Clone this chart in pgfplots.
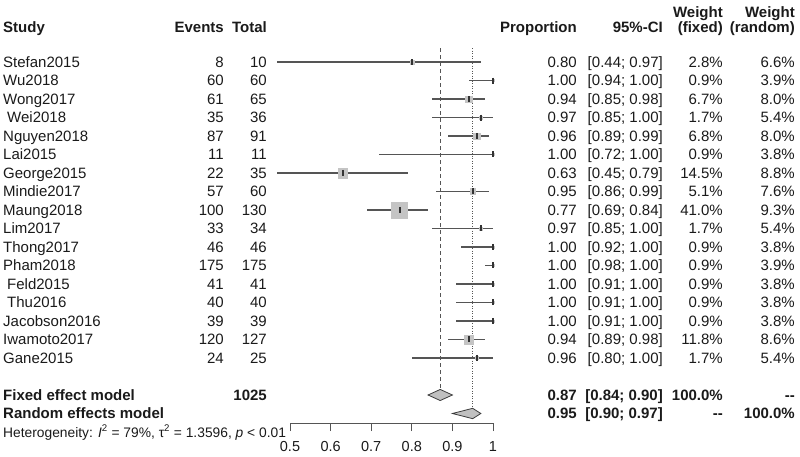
\documentclass[border=0pt]{standalone}
\usepackage{pgfplots}
\pgfplotsset{compat=1.18}
\usepackage{pgfplotstable}
\usepackage{fontspec}
\setmainfont{Liberation Sans}
\definecolor{linecol}{HTML}{555555}
\definecolor{sqfill}{HTML}{C4C4C4}
\definecolor{diafill}{HTML}{C0C0C0}
\definecolor{txt}{HTML}{1A1A1A}

% y = -row, est, lower, upper, fixed weight (%)
\pgfplotstableread{
y est lo hi w
-1 0.80 0.44 0.97 2.8
-2 1.00 0.94 1.00 0.9
-3 0.94 0.85 0.98 6.7
-4 0.97 0.85 1.00 1.7
-5 0.96 0.89 0.99 6.8
-6 1.00 0.72 1.00 0.9
-7 0.63 0.45 0.79 14.5
-8 0.95 0.86 0.99 5.1
-9 0.77 0.69 0.84 41.0
-10 0.97 0.85 1.00 1.7
-11 1.00 0.92 1.00 0.9
-12 1.00 0.98 1.00 0.9
-13 1.00 0.91 1.00 0.9
-14 1.00 0.91 1.00 0.9
-15 1.00 0.91 1.00 0.9
-16 0.94 0.89 0.98 11.8
-17 0.96 0.80 1.00 1.7
}\studies

\begin{document}
\begin{tikzpicture}
\useasboundingbox (0,0) rectangle (800bp,-457bp);
\begin{axis}[
  at={(290bp,-423bp)}, anchor=south west,
  scale only axis, width=203bp, height=423bp,
  xmin=0.5, xmax=1, ymin=-20.514, ymax=2.3514,
  clip=false,
  axis x line=bottom, axis y line=none,
  axis line style={-, linecol, line width=1bp},
  every outer x axis line/.append style={-},
  xtick={0.5,0.6,0.7,0.8,0.9,1},
  tick align=outside, major tick length=8bp,
  tick style={linecol, line width=1bp},
  /pgf/number format/assume math mode=true,
  xticklabel style={font=\fontsize{14.5bp}{17bp}\selectfont, text=txt, yshift=-7bp},
]
% reference lines
\addplot[linecol, line width=1bp, dash pattern=on 4bp off 3bp] coordinates {(0.87,-0.25) (0.87,-18.7)};
\addplot[linecol, line width=1bp, dash pattern=on 1bp off 1.5bp] coordinates {(0.95,-0.25) (0.95,-19.72)};
% squares (area proportional to fixed weight)
\addplot[scatter, only marks, mark=square*, draw=sqfill, fill=sqfill,
  mark options={draw=sqfill, fill=sqfill},
  scatter/use mapped color={draw=sqfill, fill=sqfill},
  visualization depends on={8*sqrt(\thisrow{w}/41) \as \msz},
  scatter/@pre marker code/.append style={/tikz/mark size=\msz}]
  table[x=est, y=y] {\studies};
% CI lines and estimate ticks
\addplot[linecol, only marks, mark=|, mark size=3bp,
  mark options={line width=1.8bp, draw=linecol!60!black},
  error bars/.cd, x dir=both, x explicit, error mark=none,
  error bar style={line width=1.25bp, linecol}]
  table[x=est, y=y,
    x error plus expr={\thisrow{hi}-\thisrow{est}},
    x error minus expr={\thisrow{est}-max(\thisrow{lo},0.468)}] {\studies};
% diamonds
\addplot[fill=diafill, draw=linecol!70!black, line width=0.8bp] coordinates {(0.84,-19) (0.87,-18.7) (0.90,-19) (0.87,-19.3)} -- cycle;
\addplot[fill=diafill, draw=linecol!70!black, line width=0.8bp] coordinates {(0.90,-20) (0.95,-19.72) (0.97,-20) (0.95,-20.28)} -- cycle;
\end{axis}

\begin{scope}[x=1bp, y=-1bp, every node/.style={inner sep=0pt, font=\fontsize{15bp}{18bp}\selectfont, text=txt}]
% header
\node[anchor=base west, font=\fontsize{15bp}{18bp}\selectfont\bfseries] at (3,32.5) {Study};
\node[anchor=base east, font=\fontsize{15bp}{18bp}\selectfont\bfseries] at (224,32.5) {Events};
\node[anchor=base east, font=\fontsize{15bp}{18bp}\selectfont\bfseries] at (267,32.5) {Total};
\node[anchor=base east, font=\fontsize{15bp}{18bp}\selectfont\bfseries] at (577,32.5) {Proportion};
\node[anchor=base east, font=\fontsize{15bp}{18bp}\selectfont\bfseries] at (663,32.5) {95\%-CI};
\node[anchor=base east, font=\fontsize{15bp}{18bp}\selectfont\bfseries] at (723,17.5) {Weight};
\node[anchor=base east, font=\fontsize{15bp}{18bp}\selectfont\bfseries] at (723,32.5) {(fixed)};
\node[anchor=base east, font=\fontsize{15bp}{18bp}\selectfont\bfseries] at (795,17.5) {Weight};
\node[anchor=base east, font=\fontsize{15bp}{18bp}\selectfont\bfseries] at (795,32.5) {(random)};
% study rows
\foreach \i/\nm/\ev/\tot/\pr/\ci/\wf/\wr in {
1/Stefan2015/8/10/0.80/{[0.44; 0.97]}/2.8/6.6,
2/Wu2018/60/60/1.00/{[0.94; 1.00]}/0.9/3.9,
3/Wong2017/61/65/0.94/{[0.85; 0.98]}/6.7/8.0,
4/{\hspace*{4bp}Wei2018}/35/36/0.97/{[0.85; 1.00]}/1.7/5.4,
5/Nguyen2018/87/91/0.96/{[0.89; 0.99]}/6.8/8.0,
6/Lai2015/11/11/1.00/{[0.72; 1.00]}/0.9/3.8,
7/George2015/22/35/0.63/{[0.45; 0.79]}/14.5/8.8,
8/Mindie2017/57/60/0.95/{[0.86; 0.99]}/5.1/7.6,
9/Maung2018/100/130/0.77/{[0.69; 0.84]}/41.0/9.3,
10/Lim2017/33/34/0.97/{[0.85; 1.00]}/1.7/5.4,
11/Thong2017/46/46/1.00/{[0.92; 1.00]}/0.9/3.8,
12/Pham2018/175/175/1.00/{[0.98; 1.00]}/0.9/3.9,
13/{\hspace*{4bp}Feld2015}/41/41/1.00/{[0.91; 1.00]}/0.9/3.8,
14/{\hspace*{4bp}Thu2016}/40/40/1.00/{[0.91; 1.00]}/0.9/3.8,
15/Jacobson2016/39/39/1.00/{[0.91; 1.00]}/0.9/3.8,
16/Iwamoto2017/120/127/0.94/{[0.89; 0.98]}/11.8/8.6,
17/Gane2015/24/25/0.96/{[0.80; 1.00]}/1.7/5.4}{
  \pgfmathsetmacro\by{62+(\i-1)*18.5+5.4}
  \node[anchor=base west] at (3,\by) {\nm};
  \node[anchor=base east] at (224,\by) {\ev};
  \node[anchor=base east] at (267,\by) {\tot};
  \node[anchor=base east] at (577,\by) {\pr};
  \node[anchor=base east] at (663,\by) {\ci};
  \node[anchor=base east] at (723,\by) {\wf\%};
  \node[anchor=base east] at (795,\by) {\wr\%};
}
% summary rows
\begin{scope}[every node/.style={inner sep=0pt, font=\fontsize{15bp}{18bp}\selectfont\bfseries, text=txt}]
\node[anchor=base west] at (3,400.4) {Fixed effect model};
\node[anchor=base east] at (267,400.4) {1025};
\node[anchor=base east] at (577,400.4) {0.87};
\node[anchor=base east] at (663,400.4) {[0.84; 0.90]};
\node[anchor=base east] at (723,400.4) {100.0\%};
\node[anchor=base east] at (795,400.4) {-{}-};
\node[anchor=base west] at (3,418.9) {Random effects model};
\node[anchor=base east] at (577,418.9) {0.95};
\node[anchor=base east] at (663,418.9) {[0.90; 0.97]};
\node[anchor=base east] at (723,418.9) {-{}-};
\node[anchor=base east] at (795,418.9) {100.0\%};
\end{scope}
\node[anchor=base west, font=\fontsize{13.8bp}{17bp}\selectfont] at (3,437) {Heterogeneity: \textit{I}\textsuperscript{2} = 79\%, τ\textsuperscript{2} = 1.3596, \textit{p} < 0.01};
\end{scope}
\end{tikzpicture}
\end{document}
